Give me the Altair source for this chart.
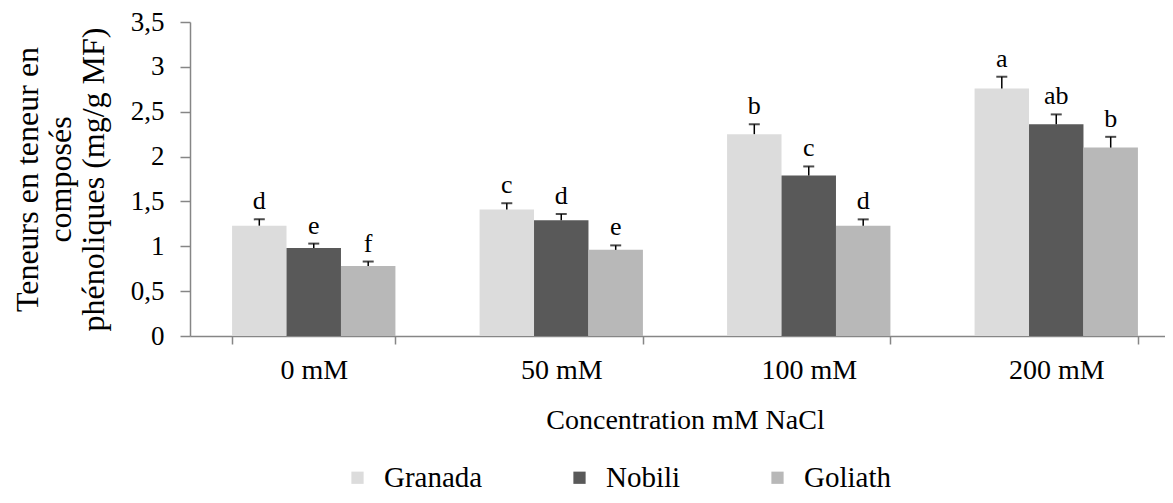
import altair as alt
import pandas as pd

conc = ["0 mM", "50 mM", "100 mM", "200 mM"]
varieties = ["Granada", "Nobili", "Goliath"]

granada = [1.23, 1.41, 2.25, 2.76]
granada_err = [0.07, 0.07, 0.11, 0.13]
granada_lab = ["d", "c", "b", "a"]

nobili = [0.98, 1.29, 1.79, 2.36]
nobili_err = [0.05, 0.07, 0.10, 0.11]
nobili_lab = ["e", "d", "c", "ab"]

goliath = [0.78, 0.96, 1.23, 2.10]
goliath_err = [0.05, 0.05, 0.07, 0.12]
goliath_lab = ["f", "e", "d", "b"]

y_ticks = [0, 0.5, 1, 1.5, 2, 2.5, 3, 3.5]
colors = ["#dcdcdc", "#595959", "#b8b8b8"]

rows = []
for name, vals, errs, labs in [
    ("Granada", granada, granada_err, granada_lab),
    ("Nobili", nobili, nobili_err, nobili_lab),
    ("Goliath", goliath, goliath_err, goliath_lab),
]:
    for c, v, e, l in zip(conc, vals, errs, labs):
        rows.append({"conc": c, "variety": name, "value": v, "hi": v + e, "lab": l})
df = pd.DataFrame(rows)

FONT = "Liberation Serif"

x_enc = alt.X(
    "conc:N",
    sort=conc,
    scale=alt.Scale(range=[0, 990], paddingInner=0.34, paddingOuter=0.17),
    axis=alt.Axis(
        title="Concentration mM NaCl",
        labelAngle=0,
        tickBand="extent",
        tickSize=8,
        labelPadding=12,
        titlePadding=22,
        labelFontSize=28,
        titleFontSize=28,
    ),
)
xo_enc = alt.XOffset("variety:N", sort=varieties,
                     scale=alt.Scale(paddingInner=0, paddingOuter=0))

y_scale = alt.Scale(domain=[0, 3.5], nice=False, zero=True)

base = alt.Chart(df)

bars = base.mark_bar(strokeWidth=0).encode(
    x=x_enc,
    xOffset=xo_enc,
    y=alt.Y(
        "value:Q",
        scale=y_scale,
        axis=alt.Axis(
            title=["Teneurs en teneur en", "composés", "phénoliques (mg/g MF)"],
            values=y_ticks,
            labelExpr="replace(format(datum.value, '~g'), '.', ',')",
            grid=False,
            tickSize=10,
            labelPadding=16,
            titlePadding=20,
            labelFontSize=27,
            titleFontSize=32,
            titleLineHeight=33,
        ),
    ),
    color=alt.Color(
        "variety:N",
        sort=varieties,
        scale=alt.Scale(domain=varieties, range=colors),
        legend=alt.Legend(
            title=None,
            orient="none",
            legendX=153,
            legendY=441,
            direction="horizontal",
            columns=3,
            columnPadding=82,
            symbolType="square",
            symbolSize=150,
            symbolStrokeWidth=0,
            labelFontSize=29,
            labelOffset=12,
        ),
    ),
)

rules = base.mark_rule(color="black", strokeWidth=1.5).encode(
    x=alt.X("conc:N", sort=conc), xOffset=xo_enc,
    y=alt.Y("value:Q", scale=y_scale), y2="hi:Q",
)

caps = base.mark_tick(color="black", size=11, thickness=2, orient="horizontal").encode(
    x=alt.X("conc:N", sort=conc), xOffset=xo_enc,
    y=alt.Y("hi:Q", scale=y_scale),
)

labels = base.mark_text(baseline="alphabetic", dy=-10, fontSize=26, font=FONT, color="black").encode(
    x=alt.X("conc:N", sort=conc), xOffset=xo_enc,
    y=alt.Y("hi:Q", scale=y_scale),
    text="lab:N",
)

chart = (
    alt.layer(bars, rules, caps, labels)
    .properties(
        width=975,
        height=314,
        autosize=alt.AutoSizeParams(type="none"),
        padding={"left": 182, "top": 14, "right": 0, "bottom": 159},
    )
    .configure_view(stroke=None)
    .configure_axis(
        labelFont=FONT,
        titleFont=FONT,
        labelColor="black",
        titleColor="black",
        titleFontWeight="normal",
        domainColor="#868686",
        tickColor="#868686",
        domainWidth=1.5,
        tickWidth=1.5,
    )
    .configure_legend(labelFont=FONT, labelColor="black")
)

chart.save("out.html", embed_options={"renderer": "svg", "actions": False})
